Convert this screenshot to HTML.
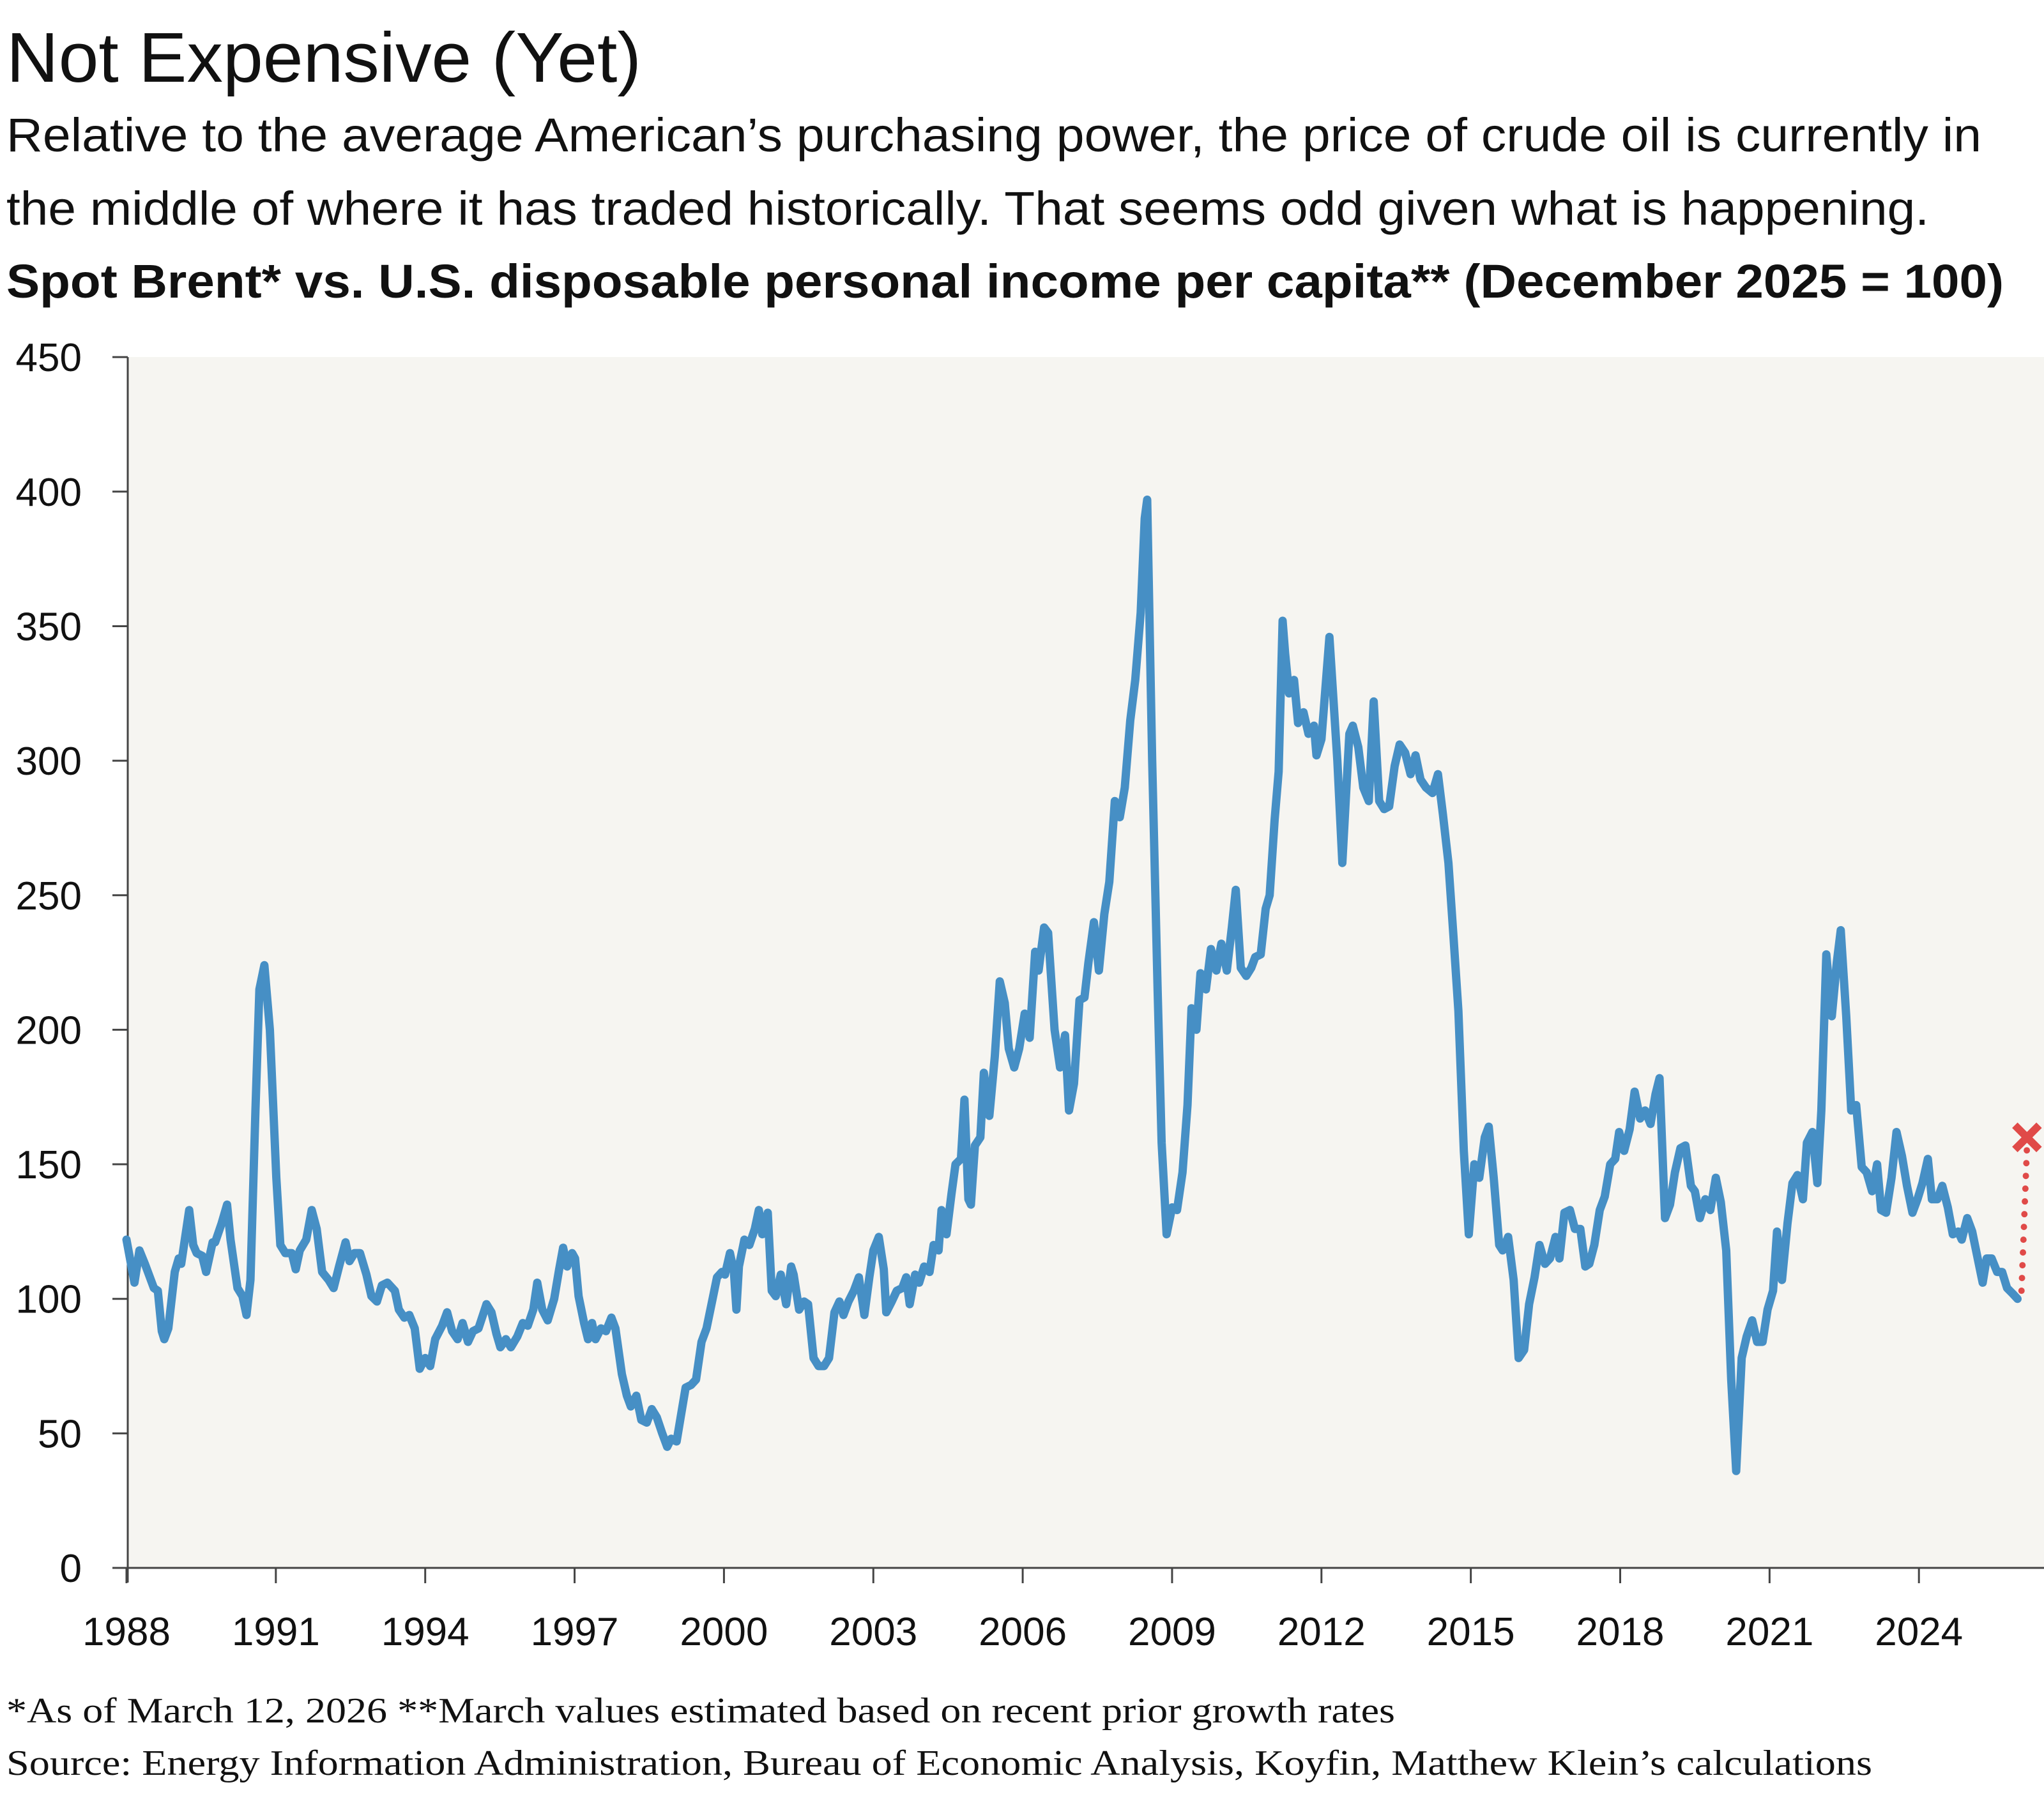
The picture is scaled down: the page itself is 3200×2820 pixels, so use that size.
<!DOCTYPE html>
<html><head><meta charset="utf-8">
<style>
html,body{margin:0;padding:0;background:#fff;}
svg{display:block;}
text{font-family:"Liberation Sans",sans-serif;fill:#111;}
.serif{font-family:"Liberation Serif",serif;}
</style></head>
<body>
<svg id="chart" width="3200" height="2820" viewBox="0 0 3200 2820" xmlns="http://www.w3.org/2000/svg">
  <text x="10" y="128" font-size="110" textLength="994" lengthAdjust="spacingAndGlyphs">Not Expensive (Yet)</text>
  <text x="10" y="237" font-size="74" textLength="3092" lengthAdjust="spacingAndGlyphs">Relative to the average American’s purchasing power, the price of crude oil is currently in</text>
  <text x="10" y="352" font-size="74" textLength="3010" lengthAdjust="spacingAndGlyphs">the middle of where it has traded historically. That seems odd given what is happening.</text>
  <text x="10" y="466" font-size="74" font-weight="bold" textLength="3127" lengthAdjust="spacingAndGlyphs">Spot Brent* vs. U.S. disposable personal income per capita** (December 2025 = 100)</text>
  <rect x="200" y="559" width="3000" height="1896" fill="#f6f5f1"/>
  <g id="yaxis"></g>
  <g id="xaxis"></g>
  <g id="series"></g>
  <text class="serif" x="10" y="2697" font-size="56" textLength="2174" lengthAdjust="spacingAndGlyphs">*As of March 12, 2026  **March values estimated based on recent prior growth rates</text>
  <text class="serif" x="10" y="2779" font-size="56" textLength="2921" lengthAdjust="spacingAndGlyphs">Source: Energy Information Administration, Bureau of Economic Analysis, Koyfin, Matthew Klein’s calculations</text>
</svg>
<script>
// years since Jan 1988
const t = [0,.16,.26,.37,.55,.63,.71,.76,.84,.97,1.05,1.10,1.26,1.34,1.41,1.52,1.60,1.73,1.78,1.91,2.02,2.09,2.23,2.33,2.41,2.49,2.59,2.67,2.77,2.88,3.01,3.09,3.19,3.32,3.40,3.48,3.61,3.72,3.82,3.93,4.06,4.16,4.27,4.40,4.48,4.58,4.69,4.82,4.92,5.03,5.13,5.24,5.39,5.47,5.58,5.68,5.79,5.89,6.00,6.10,6.20,6.34,6.44,6.54,6.65,6.75,6.86,6.96,7.07,7.23,7.33,7.43,7.51,7.62,7.72,7.85,7.96,8.06,8.17,8.25,8.35,8.46,8.59,8.69,8.77,8.85,8.95,9.01,9.08,9.19,9.27,9.35,9.42,9.53,9.63,9.74,9.82,9.95,10.05,10.13,10.24,10.34,10.45,10.55,10.65,10.76,10.86,10.94,11.05,11.13,11.23,11.34,11.44,11.55,11.65,11.75,11.86,11.96,12.02,12.12,12.20,12.25,12.30,12.41,12.51,12.62,12.70,12.77,12.88,12.96,13.04,13.14,13.25,13.35,13.40,13.51,13.61,13.69,13.80,13.90,14.01,14.11,14.22,14.32,14.40,14.50,14.61,14.71,14.82,14.92,15.00,15.11,15.21,15.26,15.37,15.47,15.58,15.66,15.73,15.84,15.92,16.02,16.13,16.21,16.31,16.37,16.47,16.57,16.65,16.76,16.83,16.91,16.96,17.04,17.15,17.22,17.33,17.44,17.54,17.64,17.72,17.83,17.93,18.04,18.14,18.25,18.32,18.43,18.51,18.64,18.75,18.85,18.93,19.03,19.14,19.24,19.32,19.43,19.53,19.64,19.74,19.85,19.95,20.05,20.16,20.26,20.37,20.45,20.50,20.60,20.71,20.79,20.89,21.00,21.10,21.21,21.31,21.39,21.49,21.57,21.68,21.78,21.89,21.99,22.10,22.20,22.28,22.38,22.49,22.59,22.67,22.78,22.88,22.96,23.06,23.14,23.22,23.27,23.35,23.45,23.53,23.64,23.74,23.85,23.90,24.00,24.16,24.32,24.42,24.56,24.63,24.74,24.84,24.95,25.05,25.16,25.26,25.36,25.47,25.57,25.68,25.79,25.89,25.99,26.10,26.23,26.34,26.44,26.55,26.65,26.75,26.86,26.96,27.07,27.17,27.28,27.36,27.46,27.57,27.64,27.75,27.86,27.96,28.07,28.17,28.28,28.38,28.49,28.59,28.70,28.78,28.88,28.99,29.09,29.20,29.30,29.38,29.48,29.59,29.69,29.80,29.90,29.98,30.08,30.19,30.29,30.40,30.50,30.61,30.71,30.79,30.90,31.00,31.10,31.21,31.31,31.42,31.50,31.60,31.71,31.81,31.92,32.02,32.13,32.23,32.33,32.44,32.54,32.65,32.75,32.86,32.96,33.07,33.15,33.25,33.36,33.46,33.56,33.67,33.75,33.86,33.96,34.04,34.14,34.25,34.35,34.43,34.54,34.64,34.74,34.85,34.95,35.06,35.16,35.24,35.34,35.45,35.55,35.66,35.76,35.87,35.97,36.07,36.18,36.26,36.37,36.47,36.58,36.68,36.79,36.86,36.97,37.07,37.18,37.28,37.36,37.46,37.57,37.67,37.77,37.88,37.98];
const brent = [122,106,118,113,104,103,88,85,89,110,115,113,133,120,117,116,110,121,121,128,135,122,104,101,94,107,170,215,224,200,145,120,117,117,111,118,122,133,126,110,107,104,112,121,114,117,117,109,101,99,105,106,103,96,93,94,89,74,78,75,85,90,95,88,85,91,84,88,89,98,95,87,82,85,82,86,91,90,96,106,96,92,100,111,119,112,117,115,101,91,85,91,85,89,88,93,89,72,64,60,64,55,54,59,56,50,45,48,47,56,67,68,70,84,89,98,108,110,109,117,110,96,112,122,120,126,133,124,132,103,101,109,98,112,109,96,99,98,78,75,75,78,95,99,94,99,103,108,94,108,118,123,111,95,99,103,104,108,98,109,106,112,110,120,118,133,124,139,150,152,174,137,135,157,160,184,168,190,218,210,193,186,193,206,197,229,222,238,236,200,186,198,170,180,211,212,225,240,222,243,255,285,279,290,315,330,355,390,397,300,215,158,124,134,133,147,172,208,200,221,215,230,222,232,222,238,252,223,220,223,227,228,245,250,278,296,352,340,325,330,314,318,310,313,302,308,346,300,262,310,313,305,290,285,322,285,282,283,298,306,303,295,302,293,290,288,295,280,262,235,207,155,124,150,145,160,164,145,120,118,123,107,78,81,98,108,120,113,115,123,115,132,133,126,126,112,113,120,133,138,150,152,162,155,163,177,167,170,165,176,182,130,135,147,156,157,142,140,130,137,133,145,136,118,70,36,78,86,92,84,84,96,103,125,107,128,143,146,137,158,162,143,170,228,205,225,237,205,170,172,149,147,140,150,133,132,145,162,153,142,132,137,143,152,137,137,142,134,124,125,122,130,125,115,106,115,115,110,110,104,102,100];
const estT = [38.06, 38.17];
const estV = [103, 160];
const yTicks = [0,50,100,150,200,250,300,350,400,450];
const xTickYears = [1988,1991,1994,1997,2000,2003,2006,2009,2012,2015,2018,2021,2024];

const NS = 'http://www.w3.org/2000/svg';
const X0 = 198, PXY = 77.95, Y0 = 2455, PXV = 4.213;
function xs(tt){ return X0 + tt*PXY; }
function ys(v){ return Y0 - v*PXV; }
function mk(tag, attrs, parent){ const e=document.createElementNS(NS,tag); for(const k in attrs) e.setAttribute(k, attrs[k]); parent.appendChild(e); return e; }

const ya = document.getElementById('yaxis');
const yl = mk('line',{x1:200,y1:ys(450),x2:200,y2:Y0+23,stroke:'#444','stroke-width':3},ya);


yTicks.forEach(v=>{
  const tk = mk('line',{x1:176,y1:ys(v),x2:200,y2:ys(v),stroke:'#444','stroke-width':3},ya);
  
  
  const lb = mk('text',{x:128,y:ys(v)+22,'font-size':62,'text-anchor':'end'},ya);
  lb.textContent = v;
  
  
});
const xa = document.getElementById('xaxis');
const xl = mk('line',{x1:176,y1:Y0,x2:3200,y2:Y0,stroke:'#444','stroke-width':3},xa);


xTickYears.forEach(yr=>{
  const x = xs(yr-1988);
  const tk = mk('line',{x1:x,y1:Y0,x2:x,y2:Y0+24,stroke:'#444','stroke-width':3},xa);
  
  
  const lb = mk('text',{x:x,y:2576,'font-size':62,'text-anchor':'middle'},xa);
  lb.textContent = yr;
  
  
});

const sg = document.getElementById('series');
let d = '';
for(let i=0;i<t.length;i++){ d += (i?'L':'M') + xs(t[i]).toFixed(1) + ',' + ys(brent[i]).toFixed(1); }
const line = mk('path',{d:d,fill:'none',stroke:'#468fc5','stroke-width':13,'stroke-linejoin':'round','stroke-linecap':'round'},sg);


const dot = mk('line',{x1:xs(estT[0]),y1:ys(estV[0]),x2:xs(estT[1]),y2:ys(estV[1])+14,stroke:'#e04a48','stroke-width':10,'stroke-dasharray':'0 20','stroke-linecap':'round'},sg);


const cx = xs(estT[1]), cy = ys(estV[1]);
const mark = mk('path',{d:`M${cx-19},${cy-19}L${cx+19},${cy+19}M${cx+19},${cy-19}L${cx-19},${cy+19}`,stroke:'#e04a48','stroke-width':12,fill:'none'},sg);


</script>
</body></html>
